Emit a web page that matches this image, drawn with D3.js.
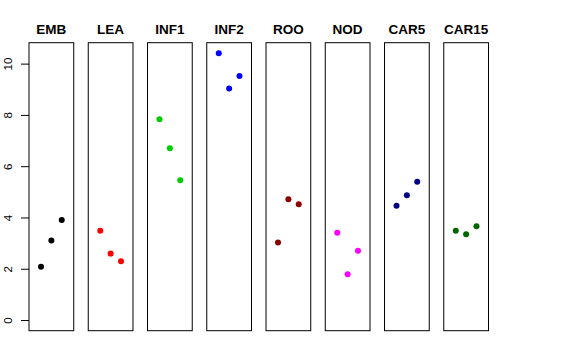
<!DOCTYPE html>
<html lang="en">
<head>
    <meta charset="UTF-8">
    <title>Panels</title>
    <script src="https://d3js.org/d3.v7.min.js"></script>
    <style>
        body { margin: 0; background: #fff; }
        text { font-family: 'Liberation Sans', Arial, sans-serif; }
    </style>
</head>
<body>
<script>
    const width  = 576;
    const height = 360;

    const groups = ['EMB', 'LEA', 'INF1', 'INF2', 'ROO', 'NOD', 'CAR5', 'CAR15'];
    const colors = ['#000000', '#FF0000', '#00CD00', '#0000FF', '#8B0000', '#FF00FF', '#000080', '#006400'];
    const values = [
        [2.08, 3.10, 3.90],
        [3.48, 2.59, 2.29],
        [7.83, 6.70, 5.45],
        [10.40, 9.03, 9.52],
        [3.02, 4.71, 4.52],
        [3.40, 1.79, 2.70],
        [4.46, 4.87, 5.39],
        [3.48, 3.35, 3.66]
    ];
    const yTicks = [0, 2, 4, 6, 8, 10];

    const plotTop = 42.7, plotBottom = 330.7;

    const svg = d3.select("body").append("svg").attr("width", width).attr("height", height);

    const panel = d3.scaleBand()
        .domain(groups)
        .range([29, 488.5])
        .paddingInner(0.245)
        .paddingOuter(0);

    const y = d3.scaleLinear()
        .domain([-0.416, 10.816])
        .range([plotBottom, plotTop]);

    // points sit at 1, 2, 3 inside an x range of 0..4 (R adds 4%)
    const x = d3.scaleLinear()
        .domain([-0.16, 4.16])
        .range([0, panel.bandwidth()]);

    // y axis on the first panel, labels turned like R's las=0
    const axis = svg.append("g")
        .attr("transform", "translate(" + panel(groups[0]) + ",0)")
        .call(d3.axisLeft(y).tickValues(yTicks).tickSize(8).tickFormat(d3.format("d")));
    axis.select(".domain").remove();
    axis.selectAll(".tick line").attr("stroke", "#000");
    axis.selectAll(".tick text")
        .attr("font-size", "11.5px")
        .attr("fill", "#000")
        .attr("text-anchor", "middle")
        .attr("x", 0)
        .attr("y", 0)
        .attr("dy", null)
        .attr("transform", "translate(-17,0) rotate(-90)");

    groups.forEach((name, i) => {
        const g = svg.append("g")
            .attr("transform", "translate(" + panel(name) + ",0)");

        g.append("rect")
            .attr("x", 0)
            .attr("y", plotTop)
            .attr("width", panel.bandwidth())
            .attr("height", plotBottom - plotTop)
            .attr("fill", "none")
            .attr("stroke", "#000")
            .attr("stroke-width", 1);

        g.append("text")
            .text(name)
            .attr("x", panel.bandwidth() / 2)
            .attr("y", 34)
            .attr("text-anchor", "middle")
            .attr("font-weight", "bold")
            .attr("font-size", "13.5px");

        g.selectAll("circle")
            .data(values[i])
            .enter()
            .append("circle")
            .attr("cx", (d, j) => x(j + 1))
            .attr("cy", d => y(d))
            .attr("r", 3)
            .attr("fill", colors[i]);
    });
</script>
</body>
</html>
